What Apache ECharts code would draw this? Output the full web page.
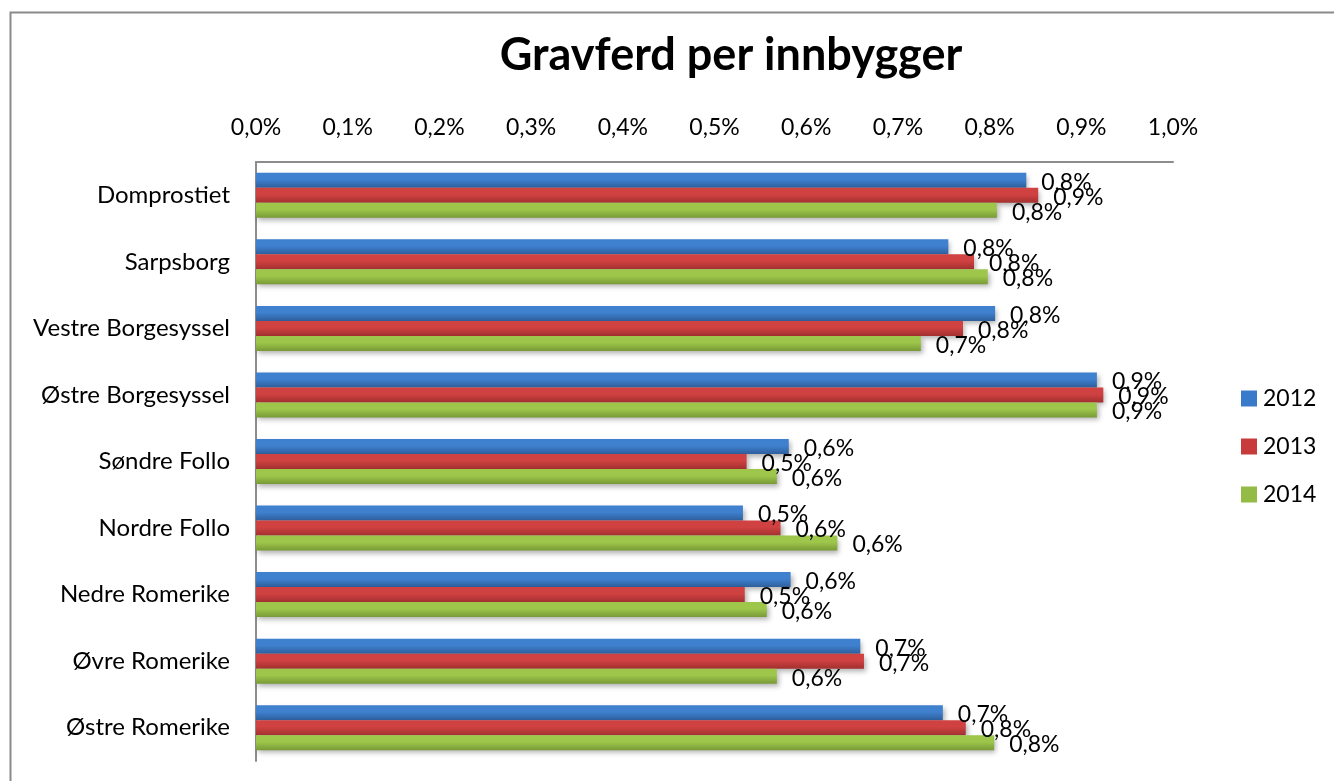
<!DOCTYPE html>
<html>
<head>
<meta charset="utf-8">
<script src="https://cdn.jsdelivr.net/npm/echarts@6/dist/echarts.min.js"></script>
<style>
html,body{margin:0;padding:0;background:#fff;}
#chart{width:1334px;height:781px;}
</style>
</head>
<body>
<div id="chart"></div>
<script>
const categories = ["Domprostiet","Sarpsborg","Vestre Borgesyssel","Østre Borgesyssel","Søndre Follo","Nordre Follo","Nedre Romerike","Øvre Romerike","Østre Romerike"];
const seriesNames = ["2012","2013","2014"];
const values2012 = [0.840,0.755,0.806,0.917,0.581,0.531,0.583,0.659,0.749];
const values2013 = [0.853,0.783,0.771,0.924,0.535,0.572,0.533,0.663,0.774];
const values2014 = [0.808,0.798,0.725,0.917,0.568,0.634,0.557,0.568,0.805];
const xTicks = [0,0.1,0.2,0.3,0.4,0.5,0.6,0.7,0.8,0.9,1.0];

const FONT = 'Lato, "Open Sans", sans-serif';
function pct(v){ return v.toFixed(1).replace('.',',') + '%'; }
function grad(top, bottom){
  return new echarts.graphic.LinearGradient(0,0,0,1,[{offset:0,color:top},{offset:0.45,color:top},{offset:1,color:bottom}]);
}
const colors = [grad('#3f80cf','#2e5f9c'), grad('#d04141','#a33030'), grad('#9dc64b','#789a36')];
const legendColors = ['#3a7acb','#c83b3b','#93bb45'];
const allValues = [values2012, values2013, values2014];

const chart = echarts.init(document.getElementById('chart'), null, {renderer:'canvas'});
chart.setOption({
  animation:false,
  backgroundColor:'#fff',
  title:{
    text:'Gravferd per innbygger',
    left:726, top:28, textAlign:'center',
    textStyle:{fontFamily:FONT, fontSize:45, fontWeight:'bold', color:'#000'}
  },
  legend:{
    orient:'vertical',
    left:1236, top:382,
    itemWidth:16, itemHeight:16, itemGap:25,
    icon:'rect',
    textStyle:{fontFamily:FONT, fontSize:23, color:'#000', padding:[0,0,0,1]},
    data: seriesNames.map((n,i)=>({name:n, itemStyle:{color:legendColors[i]}}))
  },
  grid:{left:256, right:161, top:162, bottom:20, containLabel:false},
  xAxis:{
    type:'value', position:'top', min:0, max:1.0, interval:0.1,
    axisLine:{show:true, lineStyle:{color:'#8c8c8c', width:2}},
    axisTick:{show:false},
    splitLine:{show:false},
    axisLabel:{margin:23, fontFamily:FONT, fontSize:23, color:'#000', formatter:v=>pct(v)}
  },
  yAxis:{
    type:'category', data:categories, inverse:true,
    axisLine:{show:true, lineStyle:{color:'#8c8c8c', width:2}},
    axisTick:{show:false},
    axisLabel:{margin:26, fontFamily:FONT, fontSize:24, color:'#000'}
  },
  series: seriesNames.map((n,i)=>({
    name:n, type:'bar', data:allValues[i],
    barWidth:15, barGap:'0%',
    itemStyle:{color:colors[i], shadowBlur:5, shadowOffsetX:2, shadowOffsetY:3, shadowColor:'rgba(0,0,0,0.3)'},
    label:{show:true, position:'right', distance:15, offset:[0,2], fontFamily:FONT, fontSize:23, color:'#000', formatter:p=>pct(p.value)}
  })),
  graphic:[{
    type:'rect', silent:true, z:100,
    shape:{x:10.5, y:12.5, width:1400, height:900},
    style:{fill:'none', stroke:'#8a8a8a', lineWidth:2}
  }]
});
</script>
</body>
</html>
